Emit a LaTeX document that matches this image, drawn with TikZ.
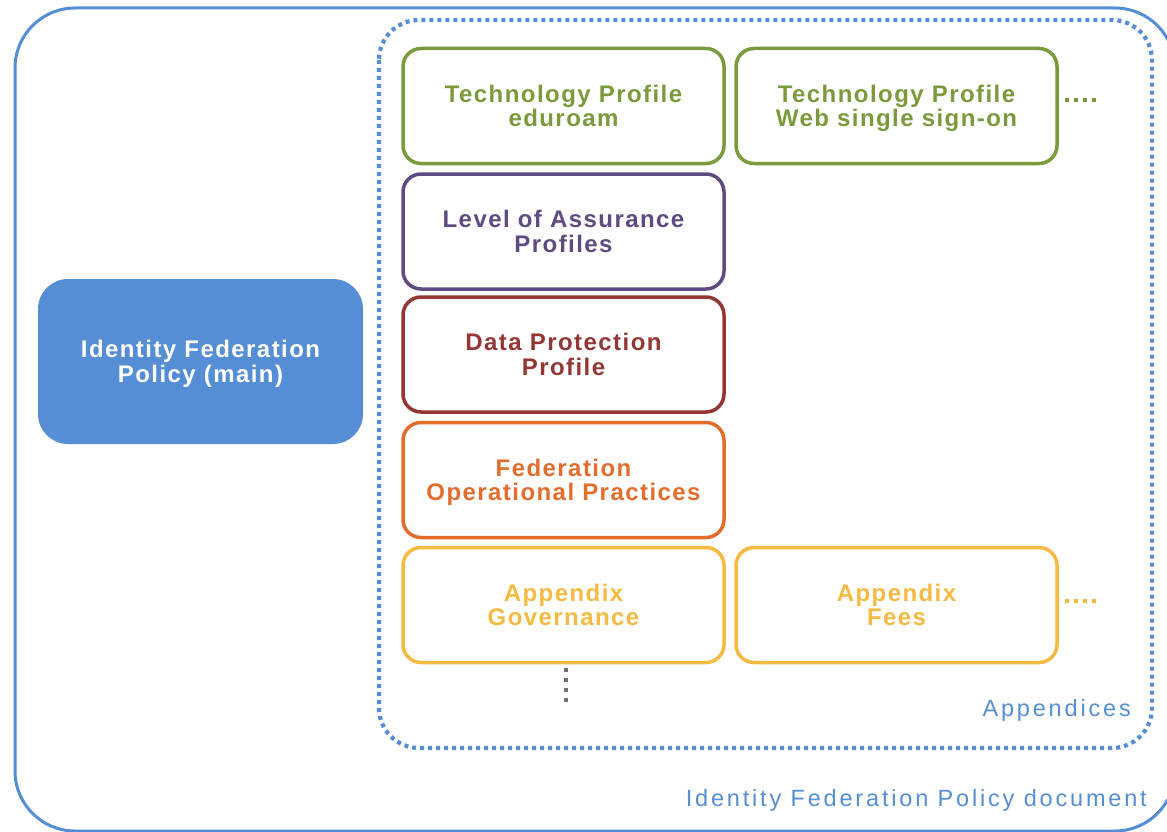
\documentclass[tikz,border=0pt]{standalone}
\usepackage{fontspec}
\setmainfont{Liberation Sans}
\newfontfamily\boxfont[LetterSpace=6]{Liberation Sans}
\newfontfamily\capfont[LetterSpace=12]{Liberation Sans}
\usetikzlibrary{positioning}
\definecolor{docblue}{HTML}{558ED5}
\definecolor{tgreen}{HTML}{7A9A3C}
\definecolor{tpurple}{HTML}{5F4B82}
\definecolor{tred}{HTML}{943634}
\definecolor{torange}{HTML}{E46C2C}
\definecolor{tyellow}{HTML}{F5BA42}
\definecolor{dotgray}{HTML}{707070}
\tikzset{
  profbox/.style={draw=#1, text=#1, line width=3.5pt, rounded corners=18pt,
    minimum width=321pt, minimum height=115pt, inner sep=0pt,
    align=center, font=\boxfont\fontsize{24}{24.5}\selectfont\bfseries},
  mainbox/.style={fill=docblue, text=white, rounded corners=30pt,
    minimum width=325pt, minimum height=165pt, inner sep=0pt,
    align=center, font=\boxfont\fontsize{24}{25}\selectfont\bfseries},
  dotline/.style={draw=#1, line width=4pt, dash pattern=on 4pt off 5pt},
  caption/.style={text=docblue, font=\capfont\fontsize{23.5}{24}\selectfont, anchor=base east, inner sep=0pt}
}
\begin{document}
\begin{tikzpicture}[x=1pt,y=-1pt]
\useasboundingbox (0,0) rectangle (1167,832);
% outer document frame
\draw[docblue, line width=3pt, rounded corners=60pt] (15,8) rectangle (1175,831);
% appendices container
\draw[docblue, line width=4.2pt, dash pattern=on 4pt off 4pt, rounded corners=40pt] (379,20) rectangle (1152,748);
% main policy
\node[mainbox] (main) at (200.5,361.5) {\raisebox{0pt}[\height][0pt]{}Identity Federation\\\smash{Policy (main)}};
% profiles
\node[profbox=tgreen] (edu) at (563.5,106) {Technology Profile\\eduroam};
\node[profbox=tgreen] (web) at (896.5,106) {Technology Profile\\\smash{Web single sign-on}};
\node[profbox=tpurple] (loa) at (563.5,231.5) {Level of Assurance\\Profiles};
\node[profbox=tred] (dpp) at (563.5,354.5) {Data Protection\\Profile};
\node[profbox=torange] (fop) at (563.5,480) {Federation\\\smash{Operational Practices}};
\node[profbox=tyellow] (gov) at (563.5,605) {Appendix\\Governance};
\node[profbox=tyellow] (fees) at (896.5,605) {Appendix\\Fees};
% continuation dots
\coordinate (webmore) at (1099,100);
\coordinate (feesmore) at (1099,601);
\coordinate (govmore) at (566,703);
\draw[dotline=tgreen] ([xshift=6pt]web.east |- webmore) -- (webmore);
\draw[dotline=tyellow] ([xshift=6pt]fees.east |- feesmore) -- (feesmore);
\draw[draw=dotgray, line width=3.5pt, dash pattern=on 3.5pt off 6.5pt] ([yshift=-4pt]gov.south -| govmore) -- (govmore);
% captions
\node[caption] (appx) at (1131,716) {Appendices};
\node[caption] (doc) at (1147,806) {Identity Federation Policy document};
\end{tikzpicture}
\end{document}
